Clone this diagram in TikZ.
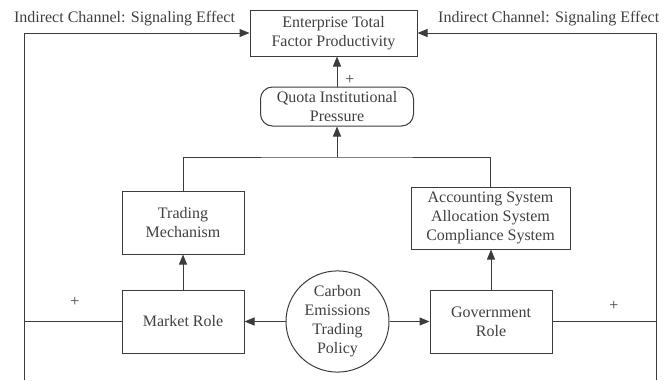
\documentclass[tikz,border=0pt]{standalone}
\usepackage{fontspec}
\setmainfont{Liberation Serif}
\usetikzlibrary{arrows.meta,shapes.geometric}
\definecolor{linegray}{HTML}{3C3C3C}
\definecolor{textgray}{HTML}{404040}
\tikzset{
  every node/.style={text=textgray,font=\fontsize{16}{19}\selectfont,align=center},
  boxnode/.style={draw=linegray,line width=1pt,inner sep=2pt},
  flow/.style={draw=linegray,line width=1pt,-{Triangle[length=10pt,width=8pt]}},
  link/.style={draw=linegray,line width=1pt}
}
\begin{document}
\begin{tikzpicture}[x=1pt,y=-1pt]
      \useasboundingbox (0,0) rectangle (663,380);
      \draw
        (333.5,33) node[boxnode,minimum width=167pt,minimum height=46pt] (tfp){Enterprise Total\\Factor Productivity}
        (337,106.5) node[boxnode,rounded corners=12pt,minimum width=153pt,minimum height=39pt] (quota){Quota Institutional\\Pressure}
        (183,222.5) node[boxnode,minimum width=122pt,minimum height=63pt] (trade){Trading\\Mechanism}
        (490.5,218) node[boxnode,minimum width=159pt,minimum height=62pt] (acct){Accounting System\\Allocation System\\Compliance System}
        (183,321.5) node[boxnode,minimum width=122pt,minimum height=63pt] (market){Market Role}
        (491,321.5) node[boxnode,minimum width=122pt,minimum height=63pt] (gov){Government\\Role}
        (337.5,321.5) node[boxnode,ellipse,inner sep=0pt,minimum width=103pt,minimum height=82pt] (ets){Carbon\\Emissions\\Trading\\Policy};
      \draw
        (124.5,19) node (lbl1){Indirect Channel: Signaling Effect}
        (438,19) node[anchor=west,inner sep=0pt] (lbl2){Indirect Channel: Signaling Effect}
        (350,80) node (p1){+}
        (75,302) node (p2){+}
        (614,306) node (p3){+};
      \coordinate (lb) at (24,380);
      \coordinate (rb) at (656,380);
      \coordinate (join) at (337,157);
      \begin{scope}[link]
        \draw[flow] (lb) |- (tfp.west);
        \draw[flow] (rb) |- (tfp.east);
        \draw (market.west) -- (market.west -| lb);
        \draw (gov.east) -- (gov.east -| rb);
        \draw[flow] (quota.north) -- (quota.north |- tfp.south);
        \draw (trade.north) |- (join) -| (acct.north);
        \draw[flow] (join) -- (quota.south);
        \draw[flow] (market.north) -- (trade.south);
        \draw[flow] (gov.north) -- (gov.north |- acct.south);
        \draw[flow] (ets.west) -- (market.east);
        \draw[flow] (ets.east) -- (gov.west);
      \end{scope}
    \end{tikzpicture}
\end{document}
